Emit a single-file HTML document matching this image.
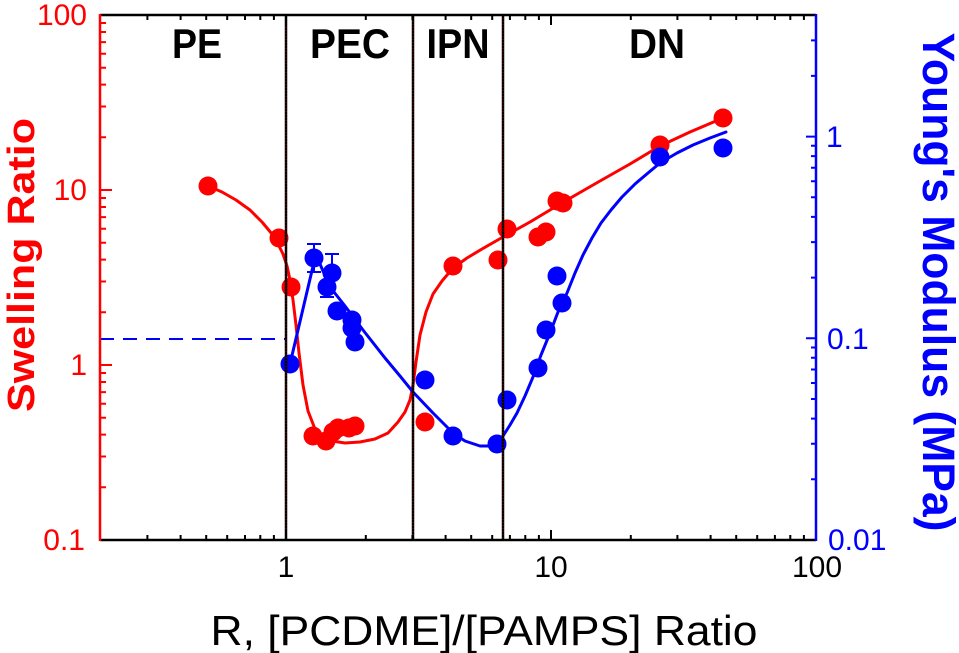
<!DOCTYPE html>
<html>
<head>
<meta charset="utf-8">
<style>
html,body{margin:0;padding:0;background:#fff;}
svg{display:block;}
text{font-family:"Liberation Sans",Arial,sans-serif;}
</style>
</head>
<body>
<svg width="959" height="653" viewBox="0 0 959 653" xmlns="http://www.w3.org/2000/svg">
<rect x="0" y="0" width="959" height="653" fill="#fff"/>

<!-- blue dashed reference line -->
<line x1="100" y1="339" x2="286" y2="339" stroke="#0000ff" stroke-width="2" stroke-dasharray="14,9"/>

<!-- red curve -->
<polyline fill="none" stroke="#ff0000" stroke-width="3" stroke-linejoin="round" stroke-linecap="round"
points="208,186 222,192 236,200 250,210 262,222 272,234 278,244 283,254 287,266 290,280 293,300 296,325 299,353 303,385 308,411 315,429 322,437 332,441 345,443 360,442 375,439 388,433 398,422 405,412 410,400 413,385 416,362 420,335 426,312 433,294 442,281 453,268 467,258 482,249 503,237 530,222 560,204 600,181 630,164 660,146 690,132 723,118"/>

<!-- blue curve -->
<polyline fill="none" stroke="#0000ff" stroke-width="3" stroke-linejoin="round" stroke-linecap="round"
points="290,364 302,313 314,262 320,264 326,278 330,287 345,306 363,330 385,358 400,376 413,392 433,413 453,433 465,441 480,446 490,446 497,443 503,436 510,425 517,413 525,396 533,377 541,355 550,333 558,312 567,293 575,273 583,255 592,238 601,223 611,210 622,197 635,184 648,173 660,163 677,153 693,145 710,138 726,132"/>

<!-- blue error bars -->
<g stroke="#0000ff" stroke-width="2" fill="none">
<path d="M314 244V272M307 244H321M307 272H321"/>
<path d="M332 254V273M325 254H339"/>
<path d="M327 287V297M320 297H334"/>
</g>

<!-- red points -->
<g fill="#ff0000">
<circle cx="208" cy="186" r="9.5"/>
<circle cx="279" cy="238" r="9.5"/>
<circle cx="291" cy="287" r="9.5"/>
<circle cx="313" cy="436" r="9.5"/>
<circle cx="326" cy="441" r="9.5"/>
<circle cx="333" cy="432" r="9.5"/>
<circle cx="338" cy="428" r="9.5"/>
<circle cx="349" cy="428" r="9.5"/>
<circle cx="355" cy="426" r="9.5"/>
<circle cx="425" cy="422" r="9.5"/>
<circle cx="453" cy="266" r="9.5"/>
<circle cx="498" cy="260" r="9.5"/>
<circle cx="507" cy="229" r="9.5"/>
<circle cx="538" cy="237" r="9.5"/>
<circle cx="546" cy="232" r="9.5"/>
<circle cx="557" cy="201" r="9.5"/>
<circle cx="563" cy="203" r="9.5"/>
<circle cx="660" cy="145" r="9.5"/>
<circle cx="723" cy="118" r="9.5"/>
</g>

<!-- blue points -->
<g fill="#0000ff">
<circle cx="290" cy="364" r="9.5"/>
<circle cx="314" cy="258" r="9.5"/>
<circle cx="332" cy="273" r="9.5"/>
<circle cx="327" cy="287" r="9.5"/>
<circle cx="337" cy="311" r="9.5"/>
<circle cx="352" cy="320" r="9.5"/>
<circle cx="352" cy="328" r="9.5"/>
<circle cx="355" cy="342" r="9.5"/>
<circle cx="425" cy="380" r="9.5"/>
<circle cx="453" cy="436" r="9.5"/>
<circle cx="497" cy="444" r="9.5"/>
<circle cx="507" cy="400" r="9.5"/>
<circle cx="538" cy="368" r="9.5"/>
<circle cx="546" cy="330" r="9.5"/>
<circle cx="557" cy="276" r="9.5"/>
<circle cx="562" cy="303" r="9.5"/>
<circle cx="660" cy="157" r="9.5"/>
<circle cx="723" cy="148" r="9.5"/>
</g>

<!-- vertical region lines -->
<g stroke="#000" stroke-width="2.5">
<line x1="286" y1="15" x2="286" y2="540"/>
<line x1="413" y1="15" x2="413" y2="540"/>
<line x1="503" y1="15" x2="503" y2="540"/>
</g>
<g stroke="#8b0000" stroke-width="1" stroke-dasharray="1,2">
<line x1="286" y1="15" x2="286" y2="540"/>
<line x1="413" y1="15" x2="413" y2="540"/>
<line x1="503" y1="15" x2="503" y2="540"/>
</g>

<!-- x ticks bottom & top -->
<g stroke="#000" stroke-width="2" fill="none">
<path d="M147.4 540V535M180.6 540V535M206.2 540V535M227.2 540V535M245 540V535M260.3 540V535M273.9 540V535M365.8 540V535M412.4 540V535M445.6 540V535M471.2 540V535M492.2 540V535M509.9 540V535M525.3 540V535M538.9 540V535M630.8 540V535M677.4 540V535M710.6 540V535M736.2 540V535M757.2 540V535M774.9 540V535M790.3 540V535M803.9 540V535M286 540V530M551 540V530"/>
<path d="M147.4 15V20M180.6 15V20M206.2 15V20M227.2 15V20M245 15V20M260.3 15V20M273.9 15V20M365.8 15V20M412.4 15V20M445.6 15V20M471.2 15V20M492.2 15V20M509.9 15V20M525.3 15V20M538.9 15V20M630.8 15V20M677.4 15V20M710.6 15V20M736.2 15V20M757.2 15V20M774.9 15V20M790.3 15V20M803.9 15V20M286 15V25M551 15V25"/>
</g>

<!-- left ticks -->
<g stroke="#ff0000" stroke-width="2" fill="none">
<path d="M100 23H106M100 32H106M100 42.1H106M100 53.8H106M100 67.7H106M100 84.6H106M100 106.5H106M100 137.3H106M100 198H106M100 207H106M100 217.1H106M100 228.8H106M100 242.7H106M100 259.6H106M100 281.5H106M100 312.3H106M100 373H106M100 382H106M100 392.1H106M100 403.8H106M100 417.7H106M100 434.6H106M100 456.5H106M100 487.3H106M100 190H112M100 365H112M100 15H112M100 540H112"/>
</g>

<!-- right ticks -->
<g stroke="#0000ff" stroke-width="2" fill="none">
<path d="M816 40.4H811M816 75.9H811M816 145.8H811M816 156.1H811M816 167.8H811M816 181.3H811M816 197.3H811M816 216.9H811M816 242.1H811M816 277.6H811M816 347.5H811M816 357.8H811M816 369.5H811M816 383H811M816 399H811M816 418.6H811M816 443.8H811M816 479.3H811M816 136.6H806M816 338.3H806M816 540H806"/>
</g>

<!-- axes -->
<line x1="100" y1="15" x2="816" y2="15" stroke="#000" stroke-width="2.5"/>
<line x1="100" y1="540" x2="816" y2="540" stroke="#000" stroke-width="2.5"/>
<line x1="100" y1="14" x2="100" y2="541" stroke="#ff0000" stroke-width="2.5"/>
<line x1="816" y1="14" x2="816" y2="541" stroke="#0000ff" stroke-width="2.5"/>

<!-- region labels -->
<g font-weight="bold" font-size="42" fill="#000" text-anchor="middle">
<text x="197" y="58" textLength="50" lengthAdjust="spacingAndGlyphs">PE</text>
<text x="350" y="58" textLength="80" lengthAdjust="spacingAndGlyphs">PEC</text>
<text x="458" y="58" textLength="63" lengthAdjust="spacingAndGlyphs">IPN</text>
<text x="657" y="58" textLength="56" lengthAdjust="spacingAndGlyphs">DN</text>
</g>

<!-- left tick labels -->
<g font-size="30" fill="#ff0000" text-anchor="end">
<text x="87" y="25">100</text>
<text x="87" y="200">10</text>
<text x="87" y="375">1</text>
<text x="85" y="550">0.1</text>
</g>

<!-- right tick labels -->
<g font-size="30" fill="#0000ff" text-anchor="start">
<text x="826" y="147">1</text>
<text x="827" y="349">0.1</text>
<text x="828" y="550">0.01</text>
</g>

<!-- x tick labels -->
<g font-size="30" fill="#000" text-anchor="middle">
<text x="286" y="577">1</text>
<text x="551" y="577">10</text>
<text x="817" y="577">100</text>
</g>

<!-- axis titles -->
<text x="484" y="645" font-size="42" fill="#000" text-anchor="middle" textLength="547" lengthAdjust="spacingAndGlyphs">R, [PCDME]/[PAMPS] Ratio</text>
<text transform="translate(34,265) rotate(-90)" font-size="38" font-weight="bold" fill="#ff0000" text-anchor="middle" textLength="294" lengthAdjust="spacingAndGlyphs">Swelling Ratio</text>
<text transform="translate(923,282) rotate(90)" font-size="45" font-weight="bold" fill="#0000ff" text-anchor="middle" textLength="499" lengthAdjust="spacingAndGlyphs">Young's Modulus (MPa)</text>
</svg>
</body>
</html>
